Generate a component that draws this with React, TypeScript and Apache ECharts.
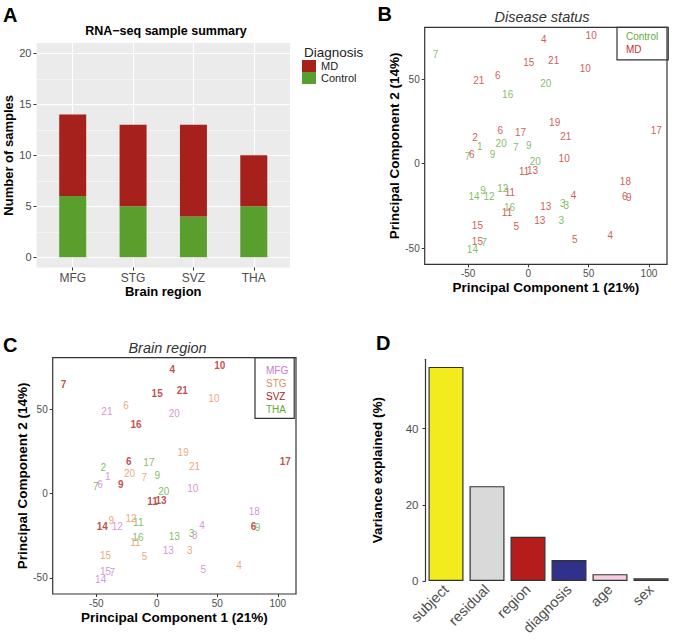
import React, { useEffect, useRef } from 'react';
import * as echarts from 'echarts';

// ---------- Panel A: sample counts ----------
const regions = ['MFG', 'STG', 'SVZ', 'THA'];
const controlCounts = [6, 5, 4, 5];
const mdCounts = [8, 8, 9, 5];
const countTicks = [0, 5, 10, 15, 20];
const countMinorTicks = [2.5, 7.5, 12.5, 17.5];
const regionPositions = [1, 2, 3, 4];

// ---------- Panels B & C: PCA samples ----------
const sampleIds = [7, 4, 10, 15, 21, 10, 21, 6, 20, 16, 19, 17, 6, 17, 21, 2, 1, 20, 7, 9, 7, 6, 9, 20, 10, 11, 13, 18, 9, 12, 11, 14, 12, 4, 6, 9, 3, 3, 16, 13, 11, 13, 3, 15, 5, 4, 5, 15, 7, 14];
const pc1 = [-77, 12.8, 52.1, 0.3, 21, 47.2, -41.2, -25.4, 14.5, -17.2, 21.8, 106.1, -23.2, -6.5, 31.1, -44.2, -40.4, -22.6, -10.4, 0.3, -50.5, -46.9, -29.7, 5.7, 29.7, -3.5, 3.5, 80.5, -37.6, -21.3, -15.3, -45, -32.7, 37.4, 79.9, 83.2, 28.6, 31.4, -15.6, 14.5, -17.7, 9.5, 27.3, -42.3, -10.1, 67.9, 38.5, -42.3, -36.8, -46.4];
const pc2 = [64.7, 73.6, 75.9, 59.6, 60.9, 56.2, 48.9, 52.3, 47.3, 40.8, 24.1, 19.3, 19.3, 18.5, 15.8, 15.4, 10.3, 11.8, 9.7, 10.5, 4.3, 5.3, 5.3, 1.4, 2.8, -4.9, -3.9, -10.8, -15.8, -14.8, -17.2, -19.7, -19.7, -18.9, -19.7, -20.1, -23.7, -24.7, -26, -25.6, -29.2, -33.5, -33.5, -36.5, -37.5, -42.4, -44.8, -46.3, -46.7, -50.9];
const sampleRegion = ['SVZ', 'SVZ', 'SVZ', 'SVZ', 'SVZ', 'STG', 'MFG', 'STG', 'MFG', 'SVZ', 'STG', 'SVZ', 'SVZ', 'THA', 'STG', 'THA', 'MFG', 'STG', 'STG', 'THA', 'THA', 'MFG', 'SVZ', 'THA', 'MFG', 'SVZ', 'SVZ', 'MFG', 'STG', 'STG', 'THA', 'SVZ', 'MFG', 'MFG', 'SVZ', 'THA', 'THA', 'MFG', 'THA', 'THA', 'STG', 'MFG', 'STG', 'STG', 'STG', 'STG', 'MFG', 'MFG', 'MFG', 'MFG'];
const sampleDiagnosis = ['Control', 'MD', 'MD', 'MD', 'MD', 'MD', 'MD', 'MD', 'Control', 'Control', 'MD', 'MD', 'MD', 'MD', 'MD', 'MD', 'Control', 'Control', 'Control', 'Control', 'Control', 'MD', 'Control', 'Control', 'MD', 'MD', 'MD', 'MD', 'Control', 'Control', 'MD', 'Control', 'Control', 'MD', 'MD', 'MD', 'Control', 'Control', 'Control', 'MD', 'MD', 'MD', 'Control', 'MD', 'MD', 'MD', 'MD', 'MD', 'Control', 'Control'];
const diagnoses = ['Control', 'MD'];
const pcTicksX = [-50, 0, 50, 100];
const pcTicksY = [-50, 0, 50];

// ---------- Panel D: variance partition ----------
const varianceFactors = ['subject', 'residual', 'region', 'diagnosis', 'age', 'sex'];
const varianceExplained = [56.2, 24.9, 11.6, 5.5, 1.8, 0.7];
const varianceTicks = [0, 20, 40];

// ---------- styles ----------
const FONT = "'Liberation Sans', Arial, Helvetica, sans-serif";
const barColors: Record<string, string> = { MD: '#A6211B', Control: '#5A9E2D' };
const diagTextColors: Record<string, string> = { Control: '#62AC3D', MD: '#C5302A' };
const regionTextColors: Record<string, string> = { MFG: '#C97BCB', STG: '#E59156', SVZ: '#B0211C', THA: '#5EAC38' };
const factorColors = ['#F2EC1F', '#D9D9D9', '#B51D1D', '#2F318B', '#F7CDE3', '#8C8C86'];

const tickLabel = (size: number) => ({ fontSize: size, color: '#4D4D4D', fontFamily: FONT });
const axisName = (size: number) => ({ fontSize: size, fontWeight: 'bold', color: '#000', fontFamily: FONT });

function pcaPoints(filter: (i: number) => boolean) {
  const out: any[] = [];
  sampleIds.forEach((id, i) => {
    if (filter(i)) out.push([pc1[i], pc2[i], id]);
  });
  return out;
}

function textScatter(name: string, xi: number, yi: number, data: any[], color: string, weight: string) {
  return {
    type: 'scatter',
    name,
    xAxisIndex: xi,
    yAxisIndex: yi,
    symbolSize: 1,
    itemStyle: { color: 'rgba(0,0,0,0)' },
    silent: true,
    data,
    label: {
      show: true,
      position: 'inside',
      formatter: (p: any) => String(p.value[2]),
      fontSize: 10,
      fontWeight: weight,
      color,
      fontFamily: FONT,
    },
    z: 3,
  };
}

function letter(t: string, x: number, y: number) {
  return {
    type: 'text',
    x,
    y,
    style: { text: t, fontSize: 20, fontWeight: 'bold', fontFamily: FONT, fill: '#000', align: 'left', verticalAlign: 'middle' },
  };
}

function heading(t: string, x: number, y: number, size: number, italic: boolean, color: string, weight: string) {
  return {
    type: 'text',
    x,
    y,
    style: {
      text: t,
      fontSize: size,
      fontWeight: weight,
      fontStyle: italic ? 'italic' : 'normal',
      fontFamily: FONT,
      fill: color,
      align: 'center',
      verticalAlign: 'middle',
    },
  };
}

function pcAxes(grid: number) {
  return {
    x: {
      gridIndex: grid,
      type: 'value',
      min: -86,
      max: 115,
      axisLine: { show: false, onZero: false },
      axisTick: { show: true, length: 3, customValues: pcTicksX, lineStyle: { color: '#333' } },
      axisLabel: { customValues: pcTicksX, margin: 4, ...tickLabel(10) },
      splitLine: { show: false },
      name: 'Principal Component 1 (21%)',
      nameLocation: 'middle',
      nameGap: 16,
      nameTextStyle: axisName(13.5),
    },
    y: {
      gridIndex: grid,
      type: 'value',
      min: -59.6,
      max: 80.6,
      axisLine: { show: false, onZero: false },
      axisTick: { show: true, length: 3, customValues: pcTicksY, lineStyle: { color: '#333' } },
      axisLabel: { customValues: pcTicksY, margin: 5, ...tickLabel(10) },
      splitLine: { show: false },
      name: 'Principal Component 2 (14%)',
      nameLocation: 'middle',
      nameGap: 22,
      nameTextStyle: axisName(13.5),
    },
  };
}

export default function App() {
  const ref = useRef<HTMLDivElement>(null);

  useEffect(() => {
    if (!ref.current) return;
    const chart = echarts.init(ref.current, undefined, { renderer: 'svg' });

    const pcB = pcAxes(1);
    const pcC = pcAxes(2);

    // Panel A: grey panel spans 0.4..4.6 (ggplot discrete expansion); bar grid spans 0.5..4.5
    const aLeft = 36.5;
    const aWidth = 253.5;
    const aUnit = aWidth / 4.2;

    const option: any = {
      animation: false,
      textStyle: { fontFamily: FONT },
      grid: [
        { left: aLeft, top: 43.1, width: aWidth, height: 224.4, show: true, backgroundColor: '#EBEBEB', borderWidth: 0, containLabel: false, outerBoundsMode: 'none' },
        { left: 424.7, top: 27.3, width: 242.3, height: 237, show: true, backgroundColor: 'rgba(0,0,0,0)', borderColor: '#333', borderWidth: 1.2, containLabel: false, outerBoundsMode: 'none' },
        { left: 52.7, top: 357.7, width: 243.3, height: 236.3, show: true, backgroundColor: 'rgba(0,0,0,0)', borderColor: '#333', borderWidth: 1.2, containLabel: false, outerBoundsMode: 'none' },
        { left: 425.5, top: 359.3, width: 246, height: 221.7, show: false, containLabel: false, outerBoundsMode: 'none' },
        { left: aLeft + 0.1 * aUnit, top: 43.1, width: 4 * aUnit, height: 224.4, show: false, containLabel: false, outerBoundsMode: 'none' },
      ],
      xAxis: [
        {
          gridIndex: 0,
          type: 'value',
          min: 0.4,
          max: 4.6,
          axisLine: { show: false, onZero: false },
          axisTick: { show: true, length: 3, customValues: regionPositions, lineStyle: { color: '#333' } },
          axisLabel: { customValues: regionPositions, formatter: (v: number) => regions[Math.round(v) - 1], margin: 4, ...tickLabel(12) },
          splitLine: { show: true, lineStyle: { color: '#FFFFFF', width: 1.1 } },
          name: 'Brain region',
          nameLocation: 'middle',
          nameGap: 17,
          nameTextStyle: axisName(13),
        },
        pcB.x,
        pcC.x,
        {
          gridIndex: 3,
          type: 'category',
          data: varianceFactors,
          axisLine: { show: false, onZero: false },
          axisTick: { show: false },
          axisLabel: { rotate: 45, interval: 0, margin: 6, ...tickLabel(14.5) },
          splitLine: { show: false },
        },
        {
          gridIndex: 4,
          type: 'category',
          data: regions,
          show: false,
          axisLine: { onZero: false },
        },
      ],
      yAxis: [
        {
          gridIndex: 0,
          type: 'value',
          min: -1,
          max: 21,
          axisLine: { show: false, onZero: false },
          axisTick: { show: true, length: 3, customValues: countTicks, lineStyle: { color: '#333' } },
          axisLabel: { customValues: countTicks, margin: 5, ...tickLabel(11) },
          splitLine: { show: true, lineStyle: { color: '#FFFFFF', width: 1.1 } },
          name: 'Number of samples',
          nameLocation: 'middle',
          nameGap: 20,
          nameTextStyle: axisName(13),
        },
        {
          gridIndex: 0,
          type: 'value',
          position: 'right',
          min: -1,
          max: 21,
          axisLine: { show: false, onZero: false },
          axisTick: { show: false, customValues: countMinorTicks },
          axisLabel: { show: false, customValues: countMinorTicks },
          splitLine: { show: true, lineStyle: { color: '#FFFFFF', width: 0.5 } },
        },
        pcB.y,
        pcC.y,
        {
          gridIndex: 3,
          type: 'value',
          min: 0,
          max: 58.2,
          axisLine: { show: true, onZero: false, lineStyle: { color: '#333', width: 1.2 } },
          axisTick: { show: true, length: 3, customValues: varianceTicks, lineStyle: { color: '#333' } },
          axisLabel: { customValues: varianceTicks, margin: 7, ...tickLabel(11.5) },
          splitLine: { show: false },
          name: 'Variance explained (%)',
          nameLocation: 'middle',
          nameGap: 41,
          nameTextStyle: axisName(13.5),
        },
        {
          gridIndex: 4,
          type: 'value',
          min: -1,
          max: 21,
          show: false,
          splitLine: { show: false },
        },
      ],
      legend: [
        {
          data: ['MD', 'Control'],
          orient: 'vertical',
          left: 302,
          top: 60,
          padding: 0,
          itemWidth: 14,
          itemHeight: 12,
          itemGap: 0,
          icon: 'rect',
          selectedMode: false,
          textStyle: { fontSize: 11, color: '#222', fontFamily: FONT },
        },
        {
          data: diagnoses.map((d) => ({ name: d, textStyle: { color: diagTextColors[d] } })),
          orient: 'vertical',
          left: 617,
          top: 27.3,
          padding: [3, 10, 5.5, 4],
          itemWidth: 0,
          itemHeight: 12,
          itemGap: 2,
          icon: 'none',
          selectedMode: false,
          borderColor: '#333',
          borderWidth: 1.2,
          textStyle: { fontSize: 10, fontFamily: FONT },
        },
        {
          data: regions.map((r) => ({ name: r, textStyle: { color: regionTextColors[r] } })),
          orient: 'vertical',
          left: 255,
          top: 357.7,
          padding: [7, 6, 4, 6],
          itemWidth: 0,
          itemHeight: 12,
          itemGap: 1.9,
          icon: 'none',
          selectedMode: false,
          borderColor: '#333',
          borderWidth: 1.2,
          textStyle: { fontSize: 10, fontFamily: FONT },
        },
      ],
      graphic: [
        letter('A', 3, 15),
        letter('B', 377.5, 13.5),
        letter('C', 3, 345),
        letter('D', 376, 343.3),
        heading('RNA−seq sample summary', 166, 30.5, 12.5, false, '#000', 'bold'),
        heading('Disease status', 542, 16.7, 14.5, true, '#333', 'normal'),
        heading('Brain region', 167.5, 347.5, 14.5, true, '#333', 'normal'),
        {
          type: 'text',
          x: 304,
          y: 52,
          style: { text: 'Diagnosis', fontSize: 13.5, fontFamily: FONT, fill: '#222', align: 'left', verticalAlign: 'middle' },
        },
      ],
      series: [
        {
          type: 'bar',
          name: 'Control',
          xAxisIndex: 4,
          yAxisIndex: 5,
          stack: 'diag',
          barWidth: 27,
          data: controlCounts,
          itemStyle: { color: barColors.Control },
          z: 2,
        },
        {
          type: 'bar',
          name: 'MD',
          xAxisIndex: 4,
          yAxisIndex: 5,
          stack: 'diag',
          barWidth: 27,
          data: mdCounts,
          itemStyle: { color: barColors.MD },
          z: 2,
        },
        ...diagnoses.map((d) =>
          textScatter(d, 1, 2, pcaPoints((i) => sampleDiagnosis[i] === d), diagTextColors[d], 'normal')
        ),
        ...regions.map((r) =>
          textScatter(r, 2, 3, pcaPoints((i) => sampleRegion[i] === r), regionTextColors[r], r === 'SVZ' ? 'bold' : 'normal')
        ),
        {
          type: 'bar',
          name: 'Variance',
          xAxisIndex: 3,
          yAxisIndex: 4,
          barWidth: 35,
          data: varianceExplained.map((v, i) => ({ value: v, itemStyle: { color: factorColors[i] } })),
          itemStyle: { borderColor: '#333', borderWidth: 1.2 },
          z: 2,
        },
      ],
    };

    chart.setOption(option);
    return () => chart.dispose();
  }, []);

  return <div ref={ref} style={{ position: 'absolute', left: 0, top: 0, width: 674, height: 641 }} />;
}
